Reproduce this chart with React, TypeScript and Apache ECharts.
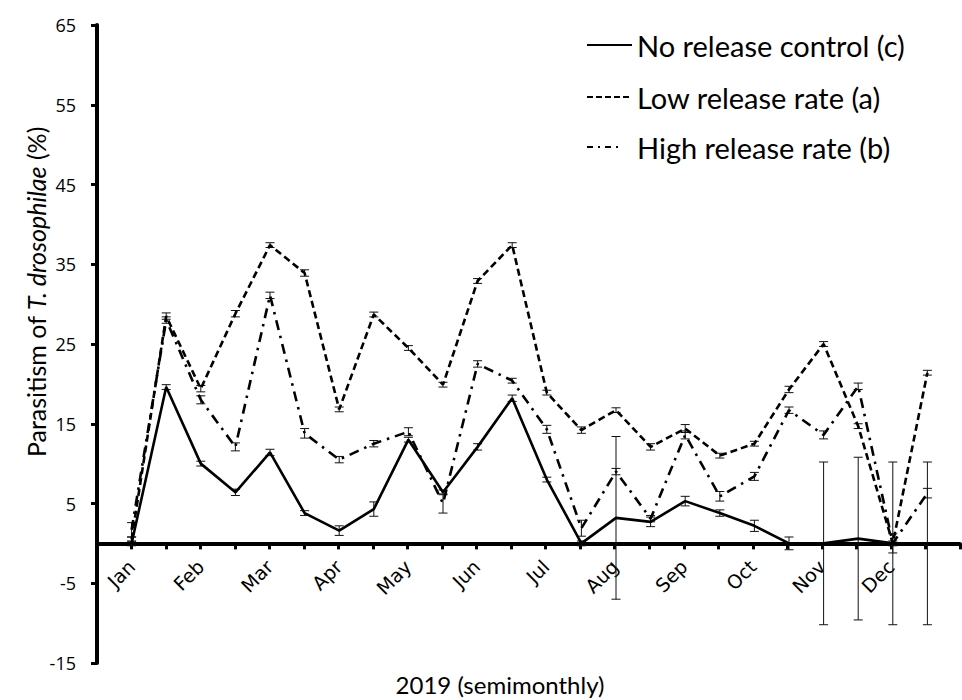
import React, { useEffect, useRef } from 'react';
import * as echarts from 'echarts';

const months = ['Jan', 'Feb', 'Mar', 'Apr', 'May', 'Jun', 'Jul', 'Aug', 'Sep', 'Oct', 'Nov', 'Dec'];

const controlValues = [0, 19.6, 10.0, 6.4, 11.4, 3.8, 1.6, 4.3, 13.0, 6.4, 12.1, 18.2, 8.0, 0, 3.2, 2.7, 5.3, 3.8, 2.2, 0, 0, 0.6, 0, 0];
const controlErrors = [0.3, 0.3, 0.3, 0.4, 0.4, 0.3, 0.6, 0.9, 0.3, 0.3, 0.4, 0.4, 0.3, 0.3, 10.2, 0.6, 0.6, 0.4, 0.7, 0.8, 10.2, 10.2, 10.2, 10.2];

const lowValues = [0.5, 28.5, 19.4, 28.8, 37.4, 33.9, 16.8, 28.7, 24.5, 19.9, 32.9, 37.4, 18.9, 14.2, 16.7, 12.1, 14.4, 11.0, 12.5, 19.3, 25.0, 14.7, 0, 21.4];
const lowErrors = [0.3, 0.4, 0.4, 0.4, 0.3, 0.4, 0.3, 0.3, 0.3, 0.3, 0.3, 0.3, 0.3, 0.4, 0.3, 0.4, 0.5, 0.3, 0.3, 0.4, 0.3, 0.3, 0.3, 0.3];

const highValues = [1.7, 28.0, 18.0, 12.1, 31.1, 13.8, 10.5, 12.5, 14.0, 5.0, 22.5, 20.4, 14.3, 1.9, 9.0, 3.1, 13.6, 5.9, 8.4, 16.7, 13.6, 19.7, 0, 6.3];
const highErrors = [0.9, 0.4, 0.5, 0.5, 0.4, 0.6, 0.4, 0.4, 0.5, 1.2, 0.4, 0.3, 0.5, 1.0, 0.4, 0.4, 0.5, 0.6, 0.5, 0.4, 0.5, 0.4, 1.2, 0.6];

const yTickValues = [-15, -5, 5, 15, 25, 35, 45, 55, 65];

const seriesNames = ['No release control (c)', 'Low release rate (a)', 'High release rate (b)'];

export default function App() {
  const ref = useRef<HTMLDivElement>(null);

  useEffect(() => {
    if (!ref.current) return;
    const chart = echarts.init(ref.current, null, { renderer: 'svg' });

    const lineData = (vals: number[]) => vals.map((v, i) => [i, v]);
    const errData = (vals: number[], errs: number[]) => vals.map((v, i) => [i, v - errs[i], v + errs[i]]);

    const errSeries = (name: string, vals: number[], errs: number[]) => ({
      type: 'custom',
      name: name + ' SE',
      xAxisIndex: 0,
      yAxisIndex: 0,
      data: errData(vals, errs),
      silent: true,
      z: 2,
      encode: { x: 0, y: [1, 2] },
      renderItem: (params: any, api: any) => {
        const x = api.value(0);
        const lo = api.value(1);
        const hi = api.value(2);
        const p1 = api.coord([x, lo]);
        const p2 = api.coord([x, hi]);
        const w = 4.5;
        const style = { stroke: '#111', lineWidth: 1, fill: null };
        return {
          type: 'group',
          children: [
            { type: 'line', shape: { x1: p1[0], y1: p1[1], x2: p2[0], y2: p2[1] }, style },
            { type: 'line', shape: { x1: p1[0] - w, y1: p1[1], x2: p1[0] + w, y2: p1[1] }, style },
            { type: 'line', shape: { x1: p2[0] - w, y1: p2[1], x2: p2[0] + w, y2: p2[1] }, style },
          ],
        };
      },
    });

    const lineSeries = (name: string, vals: number[], type: any) => ({
      type: 'line',
      name,
      xAxisIndex: 0,
      yAxisIndex: 0,
      data: lineData(vals),
      symbol: 'none',
      showSymbol: false,
      z: 3,
      lineStyle: { color: '#000', width: 2.6, type, cap: 'butt' },
      itemStyle: { color: '#000' },
    });

    const zeroY = 25 + (65 / 80) * 638;
    const legendRows = [45, 97, 147];
    const legendDash: any[] = [null, [6, 3], [6, 5, 2, 5]];
    const legendEnd = [632, 632, 623];

    const legendGraphics: any[] = [];
    seriesNames.forEach((name, i) => {
      legendGraphics.push({
        type: 'line',
        shape: { x1: 587, y1: legendRows[i], x2: legendEnd[i], y2: legendRows[i] },
        style: { stroke: '#000', lineWidth: 2.2, lineDash: legendDash[i] || undefined },
      });
      legendGraphics.push({
        type: 'text',
        x: 637,
        y: legendRows[i],
        style: {
          text: name,
          align: 'left',
          verticalAlign: 'middle',
          fontFamily: 'Lato',
          fontSize: 29,
          fill: '#000',
        },
      });
    });

    chart.setOption({
      animation: false,
      backgroundColor: '#fff',
      grid: [
        { left: 97, right: 0, top: 25, bottom: 37, containLabel: false },
        { left: 97, right: 0, top: 25, bottom: 700 - zeroY, containLabel: false },
      ],
      xAxis: [
        { type: 'value', gridIndex: 0, min: -1, max: 24, show: false },
        {
          type: 'value',
          gridIndex: 1,
          min: -1,
          max: 24,
          interval: 1,
          position: 'bottom',
          axisLine: { show: true, onZero: false, lineStyle: { color: '#000', width: 4 } },
          axisTick: { show: true, length: 6, lineStyle: { color: '#000', width: 3 } },
          splitLine: { show: false },
          axisLabel: {
            rotate: 45,
            margin: 20,
            fontFamily: 'DejaVu Sans',
            fontSize: 19,
            color: '#000',
            formatter: (v: number) => (v >= 0 && v <= 22 && v % 2 === 0 ? months[v / 2] : ''),
          },
        },
      ],
      yAxis: [
        {
          type: 'value',
          gridIndex: 0,
          min: -15,
          max: 65,
          axisLine: { show: true, onZero: false, lineStyle: { color: '#000', width: 4 } },
          axisTick: { show: true, length: 6, customValues: yTickValues, lineStyle: { color: '#000', width: 3 } },
          splitLine: { show: false },
          axisLabel: {
            customValues: yTickValues,
            margin: 21,
            fontFamily: 'Open Sans',
            fontSize: 18,
            color: '#000',
          },
        },
        { type: 'value', gridIndex: 1, min: 0, max: 1, show: false },
      ],
      graphic: [
        {
          type: 'text',
          x: 36,
          y: 292,
          rotation: Math.PI / 2,
          style: {
            text: 'Parasitism of {i|T. drosophilae} (%)',
            align: 'center',
            verticalAlign: 'middle',
            fontFamily: 'Lato',
            fontSize: 25,
            fill: '#000',
            rich: { i: { fontFamily: 'Lato', fontSize: 25, fontStyle: 'italic', fill: '#000' } },
          },
        },
        {
          type: 'text',
          x: 500,
          y: 684,
          style: {
            text: '2019 (semimonthly)',
            align: 'center',
            verticalAlign: 'middle',
            fontFamily: 'Lato',
            fontSize: 24,
            fill: '#000',
          },
        },
        ...legendGraphics,
      ],
      series: [
        errSeries(seriesNames[0], controlValues, controlErrors),
        errSeries(seriesNames[1], lowValues, lowErrors),
        errSeries(seriesNames[2], highValues, highErrors),
        lineSeries(seriesNames[0], controlValues, 'solid'),
        lineSeries(seriesNames[1], lowValues, [7, 4]),
        lineSeries(seriesNames[2], highValues, [10, 6, 2.5, 6]),
      ],
    });

    return () => chart.dispose();
  }, []);

  return <div ref={ref} style={{ position: 'fixed', left: 0, top: 0, width: 962, height: 700 }} />;
}
